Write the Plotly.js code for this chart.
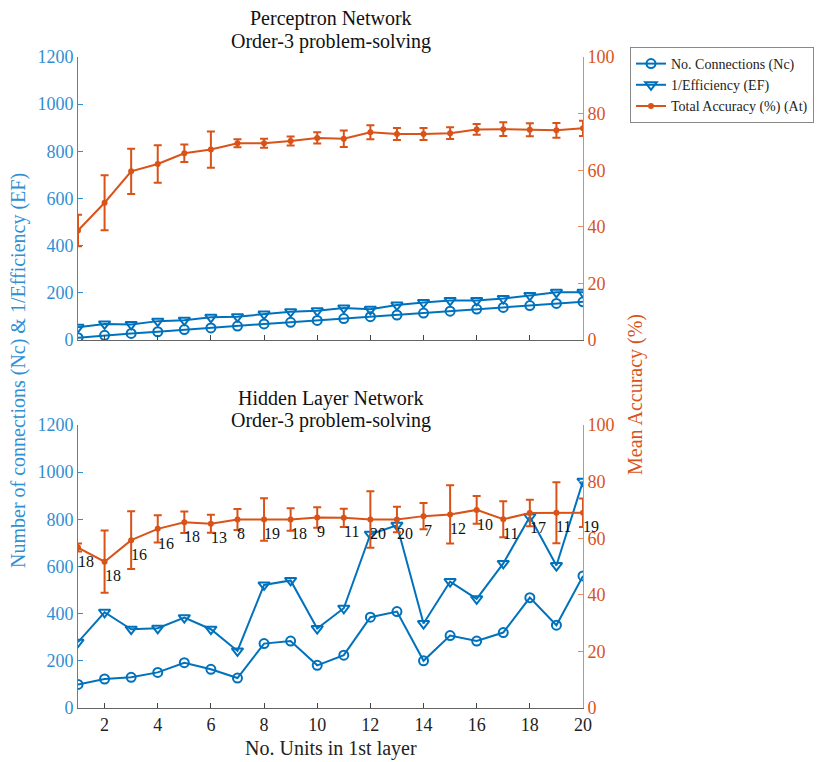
<!DOCTYPE html>
<html>
<head>
<meta charset="utf-8">
<script src="https://cdn.plot.ly/plotly-3.0.1.min.js"></script>
<style>
html,body{margin:0;padding:0;background:#fff;}
#chart{width:840px;height:762px;}
</style>
</head>
<body>
<div id="chart"></div>
<script>
// ---- Data ----
const units = [1,2,3,4,5,6,7,8,9,10,11,12,13,14,15,16,17,18,19,20];

// Perceptron network (top)
const percNc = [10,20,28,35,44,51,59,68,75,83,91,99,106,114,122,131,138,146,155,162];
const percEF = [54,68,66,80,84,96,99,110,120,124,136,130,148,159,168,168,176,189,202,202];
const percAcc = [38.7,48.5,59.6,62.2,66.0,67.3,69.5,69.5,70.3,71.4,71.1,73.4,72.8,72.8,73.1,74.4,74.5,74.3,74.1,74.8];
const percAccErr = [5.6,9.7,8.0,6.6,3.1,6.4,1.4,1.6,1.6,2.0,2.9,2.5,2.1,2.1,2.1,1.9,2.4,2.3,2.6,2.7];

// Hidden layer network (bottom)
const hidNc = [100,123,130,151,192,164,127,273,284,181,224,385,409,200,307,284,320,468,351,560];
const hidEF = [279,406,334,338,383,334,242,522,541,337,423,737,775,358,536,463,613,811,604,962];
const hidAcc = [56.7,51.7,59.3,63.3,65.6,65.1,66.6,66.6,66.6,67.3,67.2,66.6,66.6,67.8,68.4,70.0,66.7,68.9,69.0,69.0];
const hidAccErr = [1.4,11.0,10.2,4.8,3.8,3.2,3.7,7.5,4.0,3.6,3.2,10.0,4.5,4.6,10.3,4.9,6.4,4.7,10.8,5.0];
const hidLabels = ['18','18','16','16','18','13','8','19','18','9','11','20','20','7','12','10','11','17','11','19'];

const leftTicks = [0,200,400,600,800,1000,1200];
const rightTicks = [0,20,40,60,80,100];
const xTicks = [2,4,6,8,10,12,14,16,18,20];

// ---- Styles ----
const BLUE = '#0072BD';
const ORANGE = '#D95319';
const BLUE_AX = '#2f8fd3';
const ORANGE_AX = '#e8885c';
const SERIF = 'Liberation Serif';

function ncTrace(y, xa, ya, show) {
  return {x: units, y: y, xaxis: xa, yaxis: ya, type: 'scatter', mode: 'lines+markers',
    name: 'No. Connections (Nc)', showlegend: show,
    line: {color: BLUE, width: 2},
    marker: {symbol: 'circle-open', size: 9, color: BLUE, line: {width: 2, color: BLUE}}};
}
function efTrace(y, xa, ya, show) {
  return {x: units, y: y, xaxis: xa, yaxis: ya, type: 'scatter', mode: 'lines+markers',
    name: '1/Efficiency (EF)', showlegend: show,
    line: {color: BLUE, width: 2},
    marker: {symbol: 'triangle-down-open', size: 10, color: BLUE, line: {width: 2, color: BLUE}}};
}
function accTrace(y, err, xa, ya, show) {
  return {x: units, y: y, xaxis: xa, yaxis: ya, type: 'scatter', mode: 'lines+markers',
    name: 'Total Accuracy (%) (At)', showlegend: show,
    line: {color: ORANGE, width: 2},
    marker: {symbol: 'circle', size: 6, color: ORANGE},
    error_y: {type: 'data', array: err, visible: true, color: ORANGE, thickness: 2, width: 4}};
}

const data = [
  ncTrace(percNc, 'x2', 'y3', true),
  efTrace(percEF, 'x2', 'y3', true),
  accTrace(percAcc, percAccErr, 'x2', 'y4', true),
  ncTrace(hidNc, 'x', 'y', false),
  efTrace(hidEF, 'x', 'y', false),
  accTrace(hidAcc, hidAccErr, 'x', 'y2', false)
];

const W = 840, H = 762, L = 78, R = 583, T = 57, B = 708;
const py = v => (B - v) / (B - T);   // pixel y -> paper y
const px = v => (v - L) / (R - L);   // pixel x -> paper x

function xAxis(anchor, showLabels) {
  return {domain: [0, 1], anchor: anchor, range: [1, 20], tickvals: xTicks,
    showticklabels: showLabels, ticks: 'inside', ticklen: 5, tickcolor: '#444',
    showline: true, linecolor: '#666', linewidth: 1, showgrid: false, zeroline: false,
    tickfont: {family: SERIF, size: 18, color: '#222'}};
}
function leftAxis(domain, anchor) {
  return {domain: domain, anchor: anchor, range: [0, 1200], tickvals: leftTicks,
    ticks: 'inside', ticklen: 5, tickcolor: BLUE_AX, showline: true, linecolor: BLUE_AX, linewidth: 1,
    showgrid: false, zeroline: false, tickfont: {family: SERIF, size: 18, color: BLUE_AX}};
}
function rightAxis(overlay, anchor) {
  return {overlaying: overlay, anchor: anchor, side: 'right', range: [0, 100], tickvals: rightTicks,
    ticks: 'inside', ticklen: 5, tickcolor: ORANGE_AX, showline: true, linecolor: ORANGE_AX, linewidth: 1,
    showgrid: false, zeroline: false, tickfont: {family: SERIF, size: 18, color: ORANGE}};
}

const topDom = [py(340), 1];
const botDom = [0, py(425)];

const annotations = [];
function title(text, ypx) {
  annotations.push({text: text, xref: 'paper', yref: 'paper', x: 0.5, y: py(ypx),
    xanchor: 'center', yanchor: 'middle', showarrow: false,
    font: {family: SERIF, size: 20, color: '#111'}});
}
title('Perceptron Network', 19);
title('Order-3 problem-solving', 42);
title('Hidden Layer Network', 398);
title('Order-3 problem-solving', 421);

annotations.push({text: 'Number of connections (Nc) & 1/Efficiency (EF)', xref: 'paper', yref: 'paper',
  x: px(18), y: py(371), textangle: -90, xanchor: 'center', yanchor: 'middle', showarrow: false,
  font: {family: SERIF, size: 20, color: BLUE_AX}});
annotations.push({text: 'Mean Accuracy (%)', xref: 'paper', yref: 'paper',
  x: px(635), y: py(395), textangle: -90, xanchor: 'center', yanchor: 'middle', showarrow: false,
  font: {family: SERIF, size: 20, color: ORANGE}});
annotations.push({text: 'No. Units in 1st layer', xref: 'paper', yref: 'paper',
  x: 0.5, y: py(749), xanchor: 'center', yanchor: 'middle', showarrow: false,
  font: {family: SERIF, size: 20, color: '#222'}});

units.forEach((u, i) => {
  annotations.push({text: hidLabels[i], xref: 'x', yref: 'y2', x: u, y: hidAcc[i] - 5,
    xanchor: 'left', yanchor: 'middle', showarrow: false, xshift: -2,
    font: {family: SERIF, size: 16, color: '#111'}});
});

const layout = {
  width: W, height: H,
  font: {family: SERIF, size: 16, color: '#222'},
  margin: {l: L, r: W - R, t: T, b: H - B, pad: 0},
  paper_bgcolor: '#fff', plot_bgcolor: 'rgba(0,0,0,0)',
  showlegend: true,
  legend: {x: px(630), y: py(47), xanchor: 'left', yanchor: 'top',
    bordercolor: '#888', borderwidth: 1, bgcolor: '#fff',
    font: {family: SERIF, size: 14, color: '#222'}, tracegroupgap: 0, itemwidth: 30},
  xaxis: xAxis('y', true),
  yaxis: leftAxis(botDom, 'x'),
  yaxis2: rightAxis('y', 'x'),
  xaxis2: xAxis('y3', false),
  yaxis3: leftAxis(topDom, 'x2'),
  yaxis4: rightAxis('y3', 'x2'),
  annotations: annotations
};

Plotly.newPlot('chart', data, layout, {displayModeBar: false});
</script>
</body>
</html>
